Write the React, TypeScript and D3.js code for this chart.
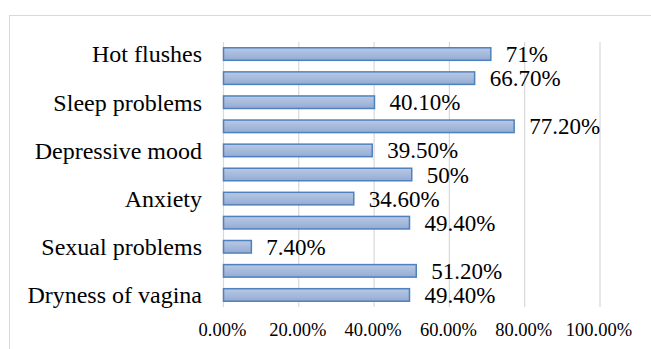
import React from "react";
import * as d3 from "d3";

const categories = [
  "Hot flushes",
  "",
  "Sleep problems",
  "",
  "Depressive mood",
  "",
  "Anxiety",
  "",
  "Sexual problems",
  "",
  "Dryness of vagina",
];
const values = [71, 66.7, 40.1, 77.2, 39.5, 50, 34.6, 49.4, 7.4, 51.2, 49.4];
const valueLabels = ["71%", "66.70%", "40.10%", "77.20%", "39.50%", "50%", "34.60%", "49.40%", "7.40%", "51.20%", "49.40%"];
const xTicks = [0, 20, 40, 60, 80, 100];
const xTickLabels = ["0.00%", "20.00%", "40.00%", "60.00%", "80.00%", "100.00%"];

const W = 651;
const H = 349;
const FONT = "'Liberation Serif', 'Times New Roman', serif";

export default function App() {
  const x = d3.scaleLinear().domain([0, 100]).range([223.5, 600]);
  const y = d3
    .scaleBand<number>()
    .domain(d3.range(categories.length))
    .range([42, 307])
    .paddingInner(0.48)
    .paddingOuter(0.24);

  return (
    <svg
      width={W}
      height={H}
      style={{ position: "fixed", left: 0, top: 0, background: "#fff" }}
    >
      <defs>
        <linearGradient id="barGrad" x1="0" y1="0" x2="0" y2="1">
          <stop offset="0%" stopColor="#b9c9e5" />
          <stop offset="100%" stopColor="#93abd3" />
        </linearGradient>
      </defs>
      <rect x={0} y={0} width={W} height={H} fill="#fff" />
      <rect x={9.5} y={15.5} width={W + 20} height={H + 20} fill="none" stroke="#d9d9d9" strokeWidth={1} />
      {xTicks.map((t) => (
        <line
          key={"g" + t}
          x1={x(t)}
          x2={x(t)}
          y1={42}
          y2={307}
          stroke="#d9d9d9"
          strokeWidth={1.2}
        />
      ))}
      {values.map((v, i) => (
        <rect
          key={"b" + i}
          x={x(0)}
          y={y(i)!}
          width={x(v) - x(0)}
          height={y.bandwidth()}
          fill="url(#barGrad)"
          stroke="#4f81bd"
          strokeWidth={1.5}
        />
      ))}
      {values.map((v, i) => (
        <text
          key={"l" + i}
          x={x(v) + 15}
          y={y(i)! + y.bandwidth() / 2}
          dy="0.35em"
          fontFamily={FONT}
          fontSize={23}
          fill="#000"
        >
          {valueLabels[i]}
        </text>
      ))}
      {categories.map((c, i) =>
        c ? (
          <text
            key={"c" + i}
            x={202}
            y={y(i)! + y.bandwidth() / 2}
            dy="0.35em"
            textAnchor="end"
            fontFamily={FONT}
            fontSize={24}
            fill="#000"
          >
            {c}
          </text>
        ) : null
      )}
      {xTicks.map((t, i) => (
        <text
          key={"t" + t}
          x={x(t) - 1}
          y={336}
          textAnchor="middle"
          fontFamily={FONT}
          fontSize={18.5}
          fill="#000"
        >
          {xTickLabels[i]}
        </text>
      ))}
    </svg>
  );
}
